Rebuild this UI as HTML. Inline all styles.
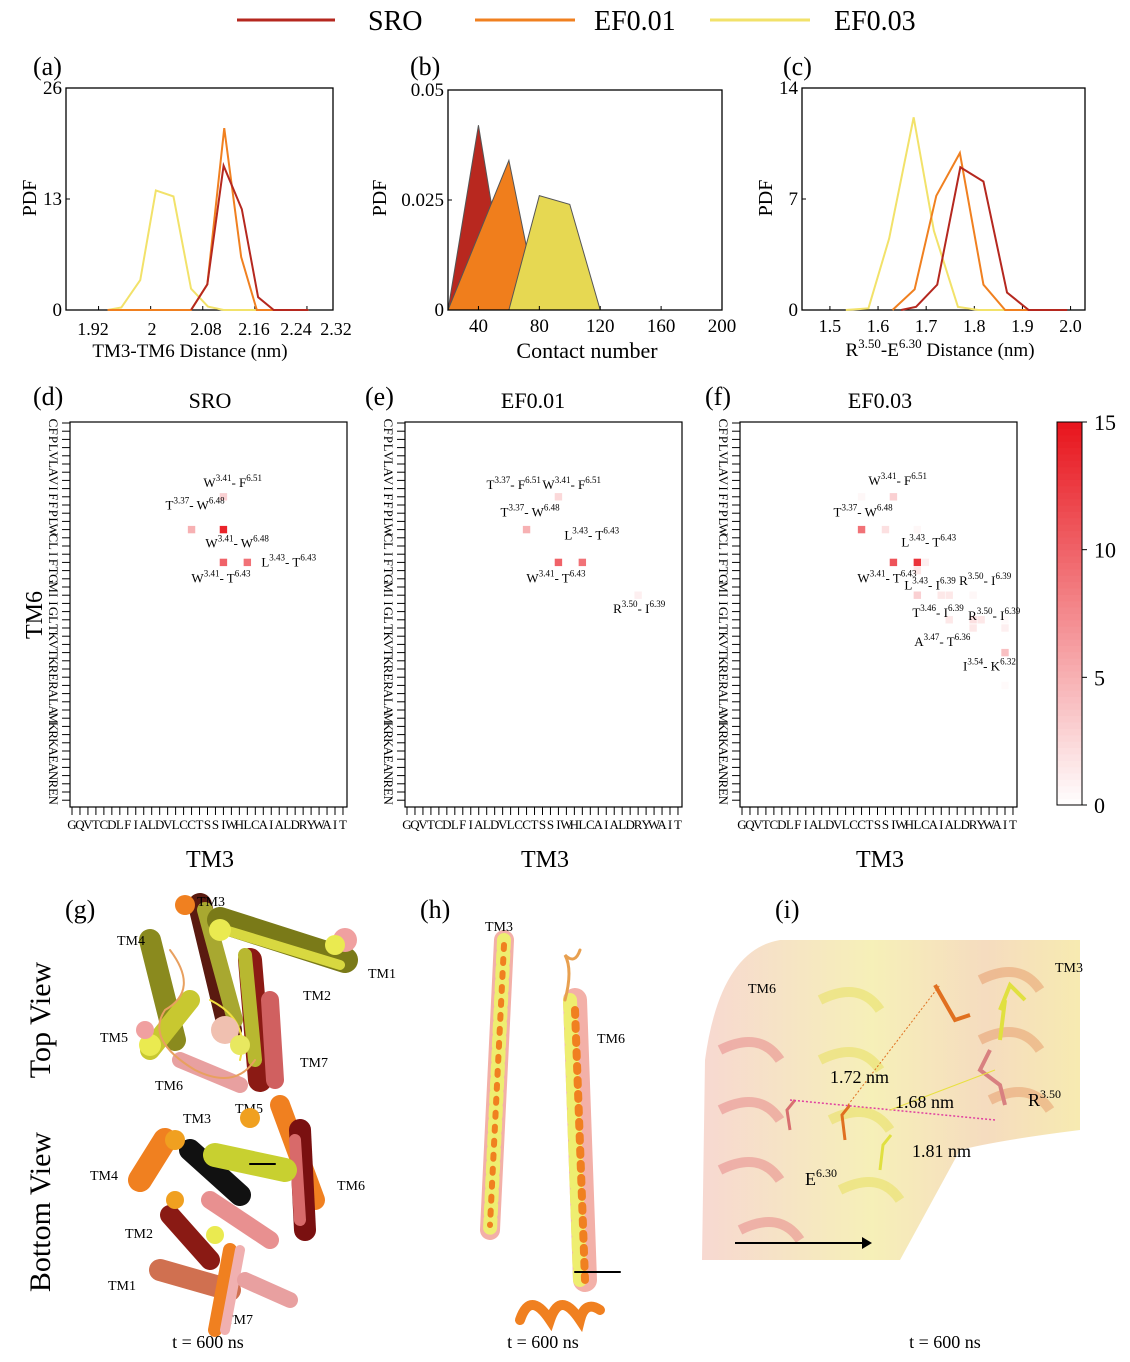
<!DOCTYPE html>
<html><head><meta charset="utf-8"><style>
html,body{margin:0;padding:0;background:#fff;}
svg{display:block;font-family:"Liberation Serif","DejaVu Serif",serif;}
</style></head><body>
<svg id="fig" width="1130" height="1362" viewBox="0 0 1130 1362" xmlns="http://www.w3.org/2000/svg">
<!-- legend -->
<g>
<line x1="237" y1="20" x2="335" y2="20" stroke="#b5281f" stroke-width="3"/>
<text x="368" y="30" font-size="28">SRO</text>
<line x1="475" y1="20" x2="575" y2="20" stroke="#f08020" stroke-width="3"/>
<text x="594" y="30" font-size="28">EF0.01</text>
<line x1="710" y1="20" x2="810" y2="20" stroke="#f2e26a" stroke-width="3"/>
<text x="834" y="30" font-size="28">EF0.03</text>
</g>
<g id="charts"></g>
<g id="art">
<text x="65" y="918" font-size="26">(g)</text>
<text x="420" y="918" font-size="26">(h)</text>
<text x="775" y="918" font-size="26">(i)</text>
<text transform="translate(50,1020) rotate(-90)" text-anchor="middle" font-size="30">Top View</text>
<text transform="translate(50,1212) rotate(-90)" text-anchor="middle" font-size="30">Bottom View</text>
<!-- g top view -->
<g stroke-linecap="round" fill="none">
<line x1="150" y1="940" x2="175" y2="1040" stroke="#8a8a1e" stroke-width="22"/>
<line x1="200" y1="905" x2="230" y2="1030" stroke="#5a1a10" stroke-width="24"/>
<line x1="205" y1="910" x2="235" y2="1020" stroke="#a8a830" stroke-width="16"/>
<line x1="220" y1="920" x2="345" y2="960" stroke="#7a7a18" stroke-width="26"/>
<line x1="225" y1="930" x2="340" y2="965" stroke="#d8d840" stroke-width="10"/>
<line x1="250" y1="960" x2="260" y2="1080" stroke="#8b1a14" stroke-width="24"/>
<line x1="245" y1="955" x2="255" y2="1060" stroke="#b8b830" stroke-width="14"/>
<line x1="270" y1="1000" x2="275" y2="1080" stroke="#d06060" stroke-width="18"/>
<line x1="150" y1="1050" x2="190" y2="1000" stroke="#c8c830" stroke-width="20"/>
<line x1="180" y1="1060" x2="240" y2="1085" stroke="#e8a0a0" stroke-width="16"/>
<circle cx="185" cy="905" r="10" fill="#f08020"/><circle cx="220" cy="930" r="11" fill="#eaea50"/>
<circle cx="345" cy="940" r="12" fill="#f0a0a0"/><circle cx="335" cy="945" r="10" fill="#eaea50"/>
<circle cx="150" cy="1045" r="11" fill="#eaea50"/><circle cx="145" cy="1030" r="9" fill="#f0a0a0"/>
<path d="M170 950 q30 40 -5 60 q-20 30 30 60 q40 20 60 -10" stroke="#e8a060" stroke-width="2"/>
<path d="M210 1000 q40 20 30 60" stroke="#f0e040" stroke-width="2"/>
<circle cx="225" cy="1030" r="14" fill="#f0c0b0"/><circle cx="240" cy="1045" r="10" fill="#e8e860"/>
</g>
<g font-size="14">
<text x="197" y="906">TM3</text>
<text x="117" y="945">TM4</text>
<text x="368" y="978">TM1</text>
<text x="303" y="1000">TM2</text>
<text x="100" y="1042">TM5</text>
<text x="300" y="1067">TM7</text>
<text x="155" y="1090">TM6</text>
<text x="183" y="1123">TM3</text>
<text x="235" y="1113">TM5</text>
<text x="90" y="1180">TM4</text>
<text x="337" y="1190">TM6</text>
<text x="125" y="1238">TM2</text>
<text x="108" y="1290">TM1</text>
<text x="225" y="1324">TM7</text>
</g>
<g stroke-linecap="round" fill="none">
<line x1="280" y1="1105" x2="315" y2="1200" stroke="#f08020" stroke-width="20"/>
<line x1="300" y1="1130" x2="305" y2="1230" stroke="#7a1010" stroke-width="22"/>
<line x1="295" y1="1140" x2="300" y2="1220" stroke="#d86a6a" stroke-width="12"/>
<line x1="140" y1="1180" x2="165" y2="1140" stroke="#f08020" stroke-width="24"/>
<line x1="190" y1="1150" x2="240" y2="1195" stroke="#111" stroke-width="22"/>
<line x1="215" y1="1155" x2="285" y2="1170" stroke="#c8d030" stroke-width="24"/>
<line x1="170" y1="1215" x2="210" y2="1260" stroke="#8a1a14" stroke-width="20"/>
<line x1="210" y1="1200" x2="270" y2="1240" stroke="#e89090" stroke-width="18"/>
<line x1="160" y1="1270" x2="230" y2="1290" stroke="#d07050" stroke-width="22"/>
<line x1="230" y1="1250" x2="215" y2="1330" stroke="#f08020" stroke-width="14"/>
<line x1="240" y1="1250" x2="225" y2="1330" stroke="#f0b0b0" stroke-width="10"/>
<line x1="245" y1="1280" x2="290" y2="1300" stroke="#e8a0a0" stroke-width="16"/>
<circle cx="175" cy="1140" r="10" fill="#f0a020"/><circle cx="250" cy="1118" r="10" fill="#f0a020"/>
<circle cx="175" cy="1200" r="9" fill="#f0a020"/><circle cx="215" cy="1235" r="9" fill="#eaea50"/>
<line x1="275" y1="1164" x2="250" y2="1164" stroke="#000" stroke-width="2"/>
</g>
<!-- h -->
<g fill="none" stroke-linecap="round">
<line x1="504" y1="940" x2="490" y2="1230" stroke="#f3b0a8" stroke-width="20"/>
<line x1="504" y1="940" x2="490" y2="1230" stroke="#eeee70" stroke-width="14" stroke-dasharray="8 6"/>
<line x1="504" y1="945" x2="490" y2="1225" stroke="#f08020" stroke-width="6" stroke-dasharray="4 10"/>
<line x1="575" y1="1000" x2="585" y2="1280" stroke="#f3b0a8" stroke-width="24"/>
<line x1="570" y1="1000" x2="580" y2="1280" stroke="#eeee70" stroke-width="14" stroke-dasharray="9 7"/>
<line x1="575" y1="1010" x2="585" y2="1280" stroke="#f08020" stroke-width="8" stroke-dasharray="5 9"/>
<path d="M565 1000 q8 -30 0 -45 q10 10 15 -5" stroke="#e8a050" stroke-width="3"/>
<path d="M520 1320 q10 -30 30 0 q10 -30 30 0 q5 -20 20 -10" stroke="#f08020" stroke-width="10"/>
<line x1="620" y1="1272" x2="575" y2="1272" stroke="#000" stroke-width="2"/>
</g>
<text x="485" y="931" font-size="14">TM3</text>
<text x="597" y="1043" font-size="14">TM6</text>
<!-- i -->
<g>
<defs><linearGradient id="ig" x1="0" x2="1"><stop offset="0" stop-color="#f6d4cc"/><stop offset="0.45" stop-color="#f5eeb0"/><stop offset="0.75" stop-color="#f4d8b8"/><stop offset="1" stop-color="#f6e8a8"/></linearGradient></defs>
<path d="M702 1260 L705 1060 Q720 950 780 940 L1080 940 L1080 1130 Q1000 1140 960 1150 L900 1260 Z" fill="url(#ig)" opacity="0.9"/>
<g fill="none" stroke-width="10" opacity="0.55">
<path d="M720 1050 q40 -20 60 10 M720 1110 q40 -20 60 10 M720 1170 q40 -20 60 10 M740 1230 q40 -20 60 10" stroke="#e88a8a"/>
<path d="M820 1000 q40 -20 60 10 M820 1060 q40 -20 60 10 M830 1120 q40 -20 60 10 M840 1190 q40 -20 60 10" stroke="#e8e060"/>
<path d="M980 980 q40 -20 60 10 M980 1040 q40 -20 60 10 M990 1100 q40 -20 60 10" stroke="#e8a070"/>
</g>
<g fill="none" stroke-width="3">
<path d="M790 1130 l-3 -20 l8 -10" stroke="#d87070"/>
<path d="M845 1140 l-3 -25 l8 -10" stroke="#e07020"/>
<path d="M880 1170 l3 -25 l8 -10" stroke="#e0e040"/>
<path d="M935 985 l20 35 l15 -5" stroke="#e07020" stroke-width="4"/>
<path d="M1000 1010 l10 -25 l15 15 M1005 1000 l-5 40" stroke="#e0e040" stroke-width="4"/>
<path d="M990 1050 l-10 20 l20 15 l5 20" stroke="#d88080" stroke-width="4"/>
</g>
<line x1="790" y1="1100" x2="995" y2="1120" stroke="#e040a0" stroke-width="1.5" stroke-dasharray="2 2"/>
<line x1="848" y1="1105" x2="940" y2="985" stroke="#e07020" stroke-width="1" stroke-dasharray="2 2"/>
<line x1="890" y1="1110" x2="995" y2="1070" stroke="#e8e040" stroke-width="1"/>
<line x1="735" y1="1243" x2="862" y2="1243" stroke="#000" stroke-width="2"/>
<path d="M862 1237 L872 1243 L862 1249 Z" fill="#000"/>
</g>
<g font-size="14">
<text x="750" y="1105" display="none">.</text>
<text x="748" y="993">TM6</text>
<text x="1055" y="972">TM3</text>
</g>
<g font-size="18">
<text x="830" y="1083">1.72 nm</text>
<text x="895" y="1108">1.68 nm</text>
<text x="912" y="1157">1.81 nm</text>
<text x="1028" y="1106">R<tspan font-size="12" dy="-8">3.50</tspan></text>
<text x="805" y="1185">E<tspan font-size="12" dy="-8">6.30</tspan></text>
<text x="208" y="1348" text-anchor="middle">t = 600 ns</text>
<text x="543" y="1348" text-anchor="middle">t = 600 ns</text>
<text x="945" y="1348" text-anchor="middle">t = 600 ns</text>
</g>
</svg>
<script>
const NS="http://www.w3.org/2000/svg";
const root=document.getElementById('charts');
function mk(tag,attrs,parent,txt){const e=document.createElementNS(NS,tag);for(const k in attrs)e.setAttribute(k,attrs[k]);if(txt!==undefined)e.textContent=txt;(parent||root).appendChild(e);return e;}

// ---------- data ----------
const aSroX=[2.062,2.087,2.112,2.140,2.165,2.189,2.242];
const aSroY=[0,3,16.9,11.8,1.5,0,0];
const aEf1X=[1.934,2.062,2.087,2.113,2.139,2.163,2.242];
const aEf1Y=[0,0,3,21.3,6.2,0,0];
const aEf3X=[1.934,1.955,1.984,2.008,2.035,2.062,2.088,2.112,2.242];
const aEf3Y=[0,0.3,3.5,14,13.3,2.5,0.4,0,0];
const aTickVals=[1.92,2.0,2.08,2.16,2.24,2.32];
const aTickLabels=["1.92","2","2.08","2.16","2.24","2.32"];

const bSroX=[20,40,60];const bSroY=[0,0.042,0];
const bEf1X=[20,60,80];const bEf1Y=[0,0.034,0];
const bEf3X=[60,80,100,120];const bEf3Y=[0,0.026,0.024,0];
const bTicks=[40,80,120,160,200];

const cSroX=[1.648,1.679,1.723,1.771,1.819,1.868,1.913,1.993];
const cSroY=[0,0.2,1.6,9.0,8.1,1.1,0,0];
const cEf1X=[1.63,1.676,1.721,1.77,1.819,1.864,1.97];
const cEf1Y=[0,1.3,7.2,9.9,1.6,0,0];
const cEf3X=[1.533,1.58,1.623,1.674,1.716,1.766,1.808,1.965];
const cEf3Y=[0,0.1,4.5,12.15,5.0,0.2,0,0];
const cTicks=[1.5,1.6,1.7,1.8,1.9,2.0];
const cTickLabels=["1.5","1.6","1.7","1.8","1.9","2.0"];

const tm3Seq="GQVTCDLFIALDVLCCTSSIWHLCAIALDRYWAIT".split("");
const tm6Seq="CFPLVLAVIFFPLWCLIFTGMIIGLTKVTKRERALAMKRKAEANREN".split("");
const dCols=[19,15,19,19,22];const dRows=[9,13,13,17,17];const dVals=[3,5,14,10,9];
const eCols=[19,15,19,22,29];const eRows=[9,13,17,17,21];const eVals=[2.5,5,10,9,1];
const fCols=[15,19,15,18,22,19,22,23,22,22,25,26,29,26,29,30,29,33,33,33,33];
const fRows=[9,9,13,13,13,17,17,17,18,21,21,21,21,24,24,24,25,24,25,28,32];
const fVals=[0.5,3,9,2,0.5,11,13,1,1.5,3,1.5,1.5,0.5,1.5,2,1.5,1.5,0.3,1,4,0.3];
const cbTicks=[0,5,10,15];

const RED="#b5281f",ORANGE="#f08020",YELLOW="#f2e26a";

function lineChart(o){
  const g=mk('g',{});
  
  
  const sx=v=>o.x0+(v-o.xmin)/(o.xmax-o.xmin)*(o.x1-o.x0);
  const sy=v=>o.y1-(v-o.ymin)/(o.ymax-o.ymin)*(o.y1-o.y0);
  return {g,sx,sy};
}
function frame(g,o,yt,ytl,name){
  const r=mk('rect',{x:o.x0,y:o.y0,width:o.x1-o.x0,height:o.y1-o.y0,fill:'none',stroke:'#000','stroke-width':1.3},g);
  
}
function series(g,xs,ys,sx,sy,color,name){
  const p=mk('polyline',{points:xs.map((x,i)=>sx(x)+','+sy(ys[i])).join(' '),fill:'none',stroke:color,'stroke-width':2},g);
  
}
function ytick(g,y,x0,label,name,fs){
  mk('line',{x1:x0,y1:y,x2:x0+4,y2:y,stroke:'#000'},g);
  const t=mk('text',{x:x0-4,y:y+6,'text-anchor':'end','font-size':fs||19},g,label);
  
}
function xtick(g,x,y1,label,name,fs){
  mk('line',{x1:x,y1:y1,x2:x,y2:y1-4,stroke:'#000'},g);
  const t=mk('text',{x:x,y:y1+22,'text-anchor':'middle','font-size':fs||18},g,label);
  
}
function txt(g,x,y,s,fs,name,extra){
  const t=mk('text',Object.assign({x:x,y:y,'font-size':fs},extra||{}),g,s);
  return t;
}
function ylab(g,x,y,s,fs,name){
  const t=mk('text',{transform:`translate(${x},${y}) rotate(-90)`,'text-anchor':'middle','font-size':fs},g,s);
  
}

// ---------- (a) ----------
{const o={x0:66,x1:333,y0:88,y1:310,xmin:1.87,xmax:2.28,ymin:0,ymax:26};
 const {g,sx,sy}=lineChart(Object.assign({name:'chart-a'},o));
 txt(g,33,75,'(a)',26,'panel-label-a');
 frame(g,o,0,0,'chart-a');
 [0,13,26].forEach(v=>ytick(g,sy(v),o.x0,String(v),'a-y-tick-'+v));
 const lp=[93,152,206,254,296,336];
 aTickVals.forEach((v,i)=>{const x=Math.min(Math.max(sx(v),o.x0),o.x1);mk('line',{x1:x,y1:o.y1,x2:x,y2:o.y1-4,stroke:'#000'},g);
   txt(g,lp[i],o.y1+25,aTickLabels[i],18,'a-x-tick-'+i,{'text-anchor':'middle'});});
 series(g,aEf3X,aEf3Y,sx,sy,YELLOW,'a-line-ef003');
 series(g,aEf1X,aEf1Y,sx,sy,ORANGE,'a-line-ef001');
 series(g,aSroX,aSroY,sx,sy,RED,'a-line-sro');
 ylab(g,36,198,'PDF',20,'a-y-axis-title');
 txt(g,190,357,'TM3-TM6 Distance (nm)',19,'a-x-axis-title',{'text-anchor':'middle'});
}
// ---------- (b) ----------
{const o={x0:448,x1:722,y0:90,y1:310,xmin:20,xmax:200,ymin:0,ymax:0.05};
 const {g,sx,sy}=lineChart(Object.assign({name:'chart-b'},o));
 txt(g,410,75,'(b)',26,'panel-label-b');
 const poly=(xs,ys,c,n)=>{const p=mk('polygon',{points:xs.map((x,i)=>sx(x)+','+sy(ys[i])).join(' '),fill:c,stroke:'#555','stroke-width':1},g);};
 poly(bSroX,bSroY,'#b8281f','b-area-sro');
 poly(bEf1X,bEf1Y,'#f07e1c','b-area-ef001');
 poly(bEf3X,bEf3Y,'#e6d852','b-area-ef003');
 frame(g,o,0,0,'chart-b');
 [[0,'0'],[0.025,'0.025'],[0.05,'0.05']].forEach(([v,l])=>ytick(g,sy(v),o.x0,l,'b-y-tick-'+l));
 bTicks.forEach(v=>xtick(g,sx(v),o.y1,String(v),'b-x-tick-'+v,19));
 ylab(g,386,198,'PDF',20,'b-y-axis-title');
 txt(g,587,358,'Contact number',22,'b-x-axis-title',{'text-anchor':'middle'});
}
// ---------- (c) ----------
{const o={x0:802,x1:1085,y0:88,y1:310,xmin:1.442,xmax:2.03,ymin:0,ymax:14};
 const {g,sx,sy}=lineChart(Object.assign({name:'chart-c'},o));
 txt(g,783,75,'(c)',26,'panel-label-c');
 frame(g,o,0,0,'chart-c');
 [0,7,14].forEach(v=>ytick(g,sy(v),o.x0,String(v),'c-y-tick-'+v));
 cTicks.forEach((v,i)=>xtick(g,sx(v),o.y1,cTickLabels[i],'c-x-tick-'+i));
 series(g,cEf3X,cEf3Y,sx,sy,YELLOW,'c-line-ef003');
 series(g,cEf1X,cEf1Y,sx,sy,ORANGE,'c-line-ef001');
 series(g,cSroX,cSroY,sx,sy,RED,'c-line-sro');
 ylab(g,772,198,'PDF',20,'c-y-axis-title');
 const t=txt(g,940,356,'',19,'c-x-axis-title',{'text-anchor':'middle'});
 t.innerHTML='R<tspan font-size="13" dy="-8">3.50</tspan><tspan dy="8">-E</tspan><tspan font-size="13" dy="-8">6.30</tspan><tspan dy="8"> Distance (nm)</tspan>';
}
// ---------- heatmaps ----------
function colorOf(v){const t=Math.max(0,Math.min(1,v/15));const r=Math.round(255+(232-255)*t),gg=Math.round(255+(20-255)*t),b=Math.round(255+(28-255)*t);return `rgb(${r},${gg},${b})`;}
function heat(o){
  const g=mk('g',{});
  
  
  const cx=i=>o.x0+2+i*7.97, cy=j=>o.y0+1+j*8.2;
  txt(g,o.lx,405,o.label,26,'panel-label-'+o.id);
  txt(g,o.tx,408,o.title,22,o.id+'-title',{'text-anchor':'middle'});
  o.cols.forEach((c,k)=>{const r=mk('rect',{x:cx(c)-3.7,y:cy(o.rows[k])-3.7,width:7.4,height:7.4,fill:colorOf(o.vals[k])},g);
    });
  mk('rect',{x:o.x0,y:o.y0,width:277,height:385,fill:'none',stroke:'#000','stroke-width':1.2},g);
  tm3Seq.forEach((ch,i)=>{mk('line',{x1:cx(i),y1:o.y0+385,x2:cx(i),y2:o.y0+393,stroke:'#000'},g);
    txt(g,cx(i),o.y0+407,ch,13,o.id+'-x-letter-'+i,{'text-anchor':'middle'});});
  tm6Seq.forEach((ch,j)=>{mk('line',{x1:o.x0-8,y1:cy(j),x2:o.x0,y2:cy(j),stroke:'#000'},g);
    txt(g,0,0,ch,13,o.id+'-y-letter-'+j,{'text-anchor':'middle',transform:`translate(${o.x0-17},${cy(j)}) rotate(90)`,dy:'4'});});
  txt(g,o.x0+140,o.y0+445,'TM3',24,o.id+'-x-axis-title',{'text-anchor':'middle'});
  (o.ann||[]).forEach((a,k)=>{const t=txt(g,cx(a[0])+a[2],cy(a[1])+a[3],'',13,o.id+'-annotation-'+k);
    t.innerHTML=a[4]+'<tspan font-size="9" dy="-6">'+a[5]+'</tspan><tspan dy="6">- '+a[6]+'</tspan><tspan font-size="9" dy="-6">'+a[7]+'</tspan>';});
  return g;
}
heat({name:'heatmap-d',id:'d',x0:70,y0:422,lx:33,tx:210,title:'SRO',label:'(d)',cols:dCols,rows:dRows,vals:dVals,
 ann:[[19,9,-20,-10,'W','3.41','F','6.51'],[15,13,-26,-20,'T','3.37','W','6.48'],[19,13,-18,18,'W','3.41','W','6.48'],[19,17,-32,20,'W','3.41','T','6.43'],[22,17,14,4,'L','3.43','T','6.43']]});
heat({name:'heatmap-e',id:'e',x0:405,y0:422,lx:365,tx:533,title:'EF0.01',label:'(e)',cols:eCols,rows:eRows,vals:eVals,
 ann:[[15,9,-40,-8,'T','3.37','F','6.51'],[19,9,-16,-8,'W','3.41','F','6.51'],[15,13,-26,-13,'T','3.37','W','6.48'],[22,17,-18,-23,'L','3.43','T','6.43'],[19,17,-32,20,'W','3.41','T','6.43'],[29,21,-25,18,'R','3.50','I','6.39']]});
heat({name:'heatmap-f',id:'f',x0:740,y0:422,lx:705,tx:880,title:'EF0.03',label:'(f)',cols:fCols,rows:fRows,vals:fVals,
 ann:[[19,9,-25,-12,'W','3.41','F','6.51'],[15,13,-28,-13,'T','3.37','W','6.48'],[22,17,-16,-16,'L','3.43','T','6.43'],[19,17,-36,20,'W','3.41','T','6.43'],[22,18,-13,19,'L','3.43','I','6.39'],[29,21,-14,-10,'R','3.50','I','6.39'],[22,21,-5,22,'T','3.46','I','6.39'],[29,24,-5,0,'R','3.50','I','6.39'],[26,24,-35,26,'A','3.47','T','6.36'],[33,28,-42,18,'I','3.54','K','6.32']]});
ylab(mk('g',{}),42,615,'TM6',24,'heatmap-y-axis-title');
// colorbar
{const g=mk('g',{});
 const y0=422,y1=805,x0=1057,w=25;
 for(let k=0;k<60;k++){const v=15*(k+0.5)/60;mk('rect',{x:x0,y:y1-(k+1)*(y1-y0)/60,width:w,height:(y1-y0)/60+0.5,fill:colorOf(v)},g);}
 mk('rect',{x:x0,y:y0,width:w,height:y1-y0,fill:'none',stroke:'#000'},g);
 cbTicks.forEach(v=>{const y=y1-v/15*(y1-y0);mk('line',{x1:x0+w,y1:y,x2:x0+w+5,y2:y,stroke:'#000'},g);
   txt(g,x0+w+12,y+8,String(v),22,'colorbar-tick-'+v);});
}
</script>
</body></html>
